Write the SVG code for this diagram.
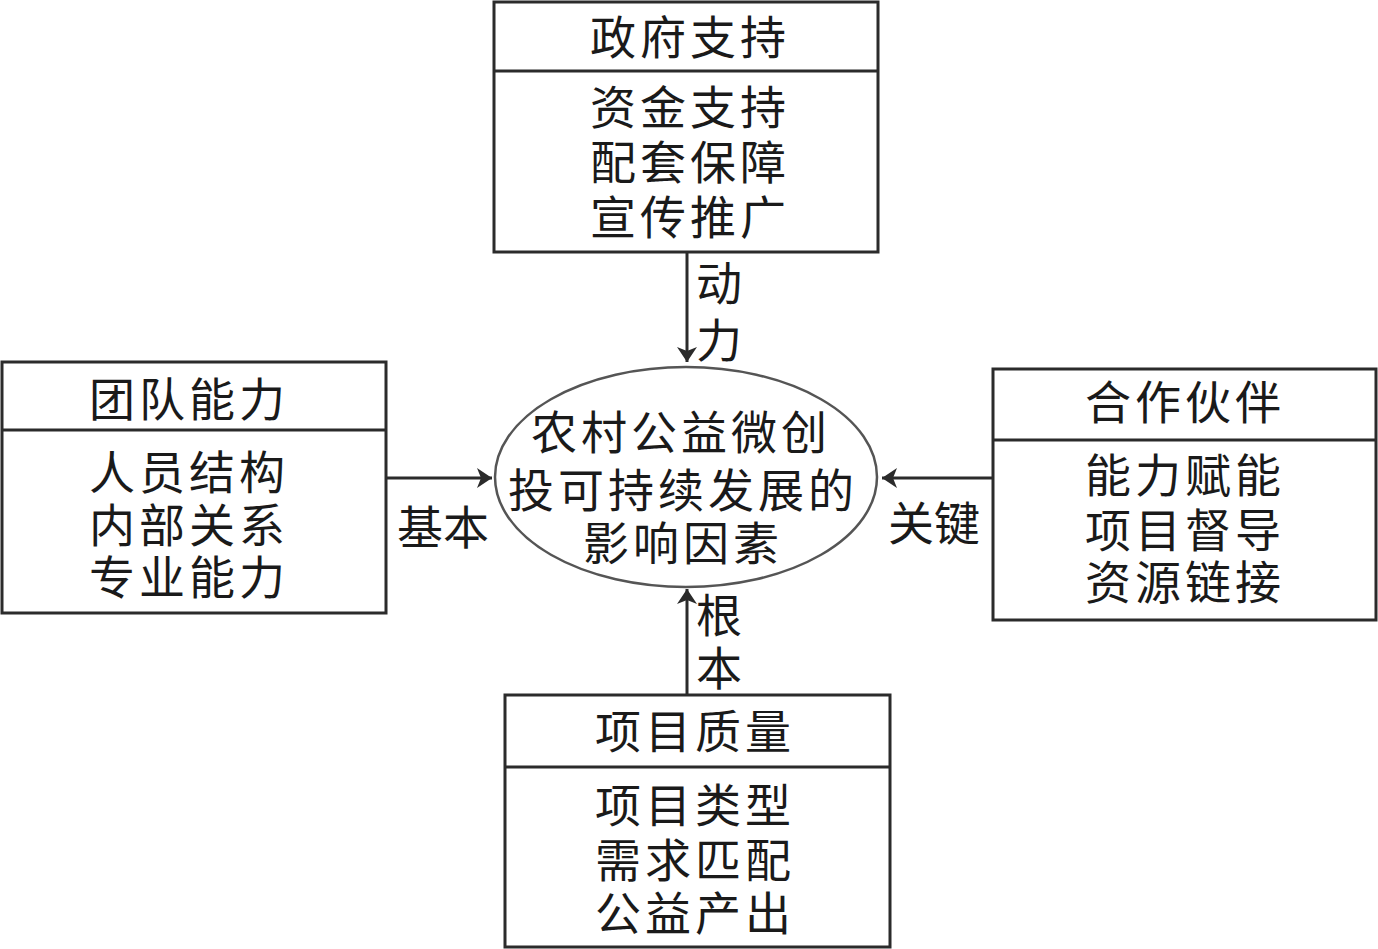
<svg xmlns="http://www.w3.org/2000/svg" width="1378" height="949" viewBox="0 0 1378 949">
<defs>
<style>
.box{fill:#fff;stroke:#2b2b2b;stroke-width:3}
.div{stroke:#2b2b2b;stroke-width:3}
.ell{fill:#fff;stroke:#555;stroke-width:2.5}
.t{font-family:"Noto Sans CJK SC","Noto Sans CJK JP",sans-serif;font-size:46px;fill:#1a1a1a;text-anchor:middle;letter-spacing:4px}
.lbl{font-family:"Noto Sans CJK SC","Noto Sans CJK JP",sans-serif;font-size:46px;fill:#1a1a1a;text-anchor:middle}
.con{stroke:#2b2b2b;stroke-width:3;fill:none}
</style>
<marker id="ah" viewBox="0 0 15 20" refX="15" refY="10" markerWidth="5" markerHeight="6.67" markerUnits="strokeWidth" orient="auto">
<path d="M0,0 L15,10 L0,20 L4,10 Z" fill="#2b2b2b"/>
</marker>
</defs>
<rect width="1378" height="949" fill="#fff"/>
<g id="connectors">
<line class="con" x1="687" y1="252" x2="687" y2="362" marker-end="url(#ah)"/>
<line class="con" x1="386" y1="478" x2="492" y2="478" marker-end="url(#ah)"/>
<line class="con" x1="993" y1="478" x2="882" y2="478" marker-end="url(#ah)"/>
<line class="con" x1="687" y1="695" x2="687" y2="589" marker-end="url(#ah)"/>
<text class="lbl" x="719" y="300">动</text>
<text class="lbl" x="719" y="357">力</text>
<text class="lbl" x="443" y="544">基本</text>
<text class="lbl" x="934" y="540">关键</text>
<text class="lbl" x="719" y="632">根</text>
<text class="lbl" x="719" y="685">本</text>
</g>
<g id="center">
<ellipse class="ell" cx="686" cy="477" rx="191" ry="110"/>
<text class="t" x="681" y="449">农村公益微创</text>
<text class="t" x="683" y="507">投可持续发展的</text>
<text class="t" x="683" y="560">影响因素</text>
</g>
<g id="gov">
<rect class="box" x="494" y="2" width="384" height="250"/>
<line class="div" x1="494" y1="71" x2="878" y2="71"/>
<text class="t" x="690" y="54">政府支持</text>
<text class="t" x="690" y="124">资金支持</text>
<text class="t" x="690" y="179">配套保障</text>
<text class="t" x="690" y="234">宣传推广</text>
</g>
<g id="team">
<rect class="box" x="2" y="362" width="384" height="251"/>
<line class="div" x1="2" y1="430" x2="386" y2="430"/>
<text class="t" x="189" y="416">团队能力</text>
<text class="t" x="189" y="489">人员结构</text>
<text class="t" x="189" y="542">内部关系</text>
<text class="t" x="189" y="594">专业能力</text>
</g>
<g id="partner">
<rect class="box" x="993" y="369" width="383" height="251"/>
<line class="div" x1="993" y1="440" x2="1376" y2="440"/>
<text class="t" x="1185" y="419">合作伙伴</text>
<text class="t" x="1185" y="492">能力赋能</text>
<text class="t" x="1185" y="547">项目督导</text>
<text class="t" x="1185" y="599">资源链接</text>
</g>
<g id="quality">
<rect class="box" x="505" y="695" width="385" height="252"/>
<line class="div" x1="505" y1="767" x2="890" y2="767"/>
<text class="t" x="695" y="748">项目质量</text>
<text class="t" x="695" y="822">项目类型</text>
<text class="t" x="695" y="877">需求匹配</text>
<text class="t" x="695" y="930">公益产出</text>
</g>
</svg>
